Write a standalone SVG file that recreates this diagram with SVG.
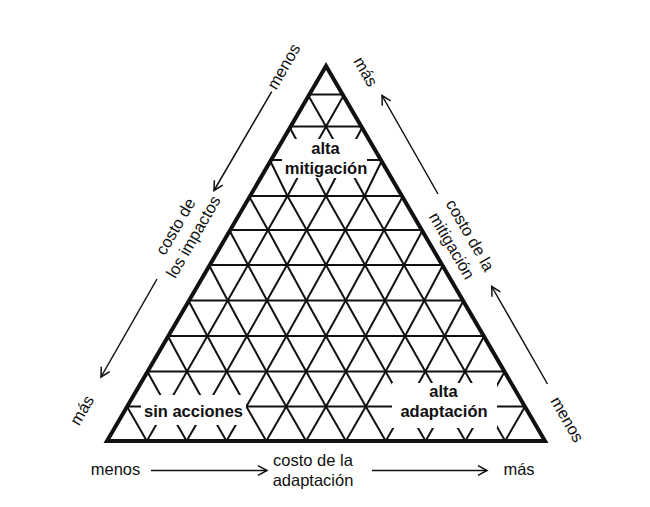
<svg xmlns="http://www.w3.org/2000/svg" width="650" height="507" viewBox="0 0 650 507">
<style>
.grid{fill:none;stroke:#111;stroke-width:2;stroke-linejoin:round}
.edge{fill:none;stroke:#111;stroke-width:4;stroke-linejoin:miter}
.arrow{fill:none;stroke:#111;stroke-width:1.5;marker-end:url(#ah)}
.lbl{font-family:"Liberation Sans",Arial,sans-serif;font-size:16.5px;fill:#111;text-anchor:middle}
.in{font-family:"Liberation Sans",Arial,sans-serif;font-size:16.5px;font-weight:bold;fill:#111;text-anchor:middle}
</style>
<defs>
<marker id="ah" markerUnits="userSpaceOnUse" markerWidth="14" markerHeight="14" viewBox="-11 -7 14 14" refX="0" refY="0" orient="auto">
<path d="M-9,-4.8 L0,0 L-9,4.8" fill="none" stroke="#111" stroke-width="1.5"/>
</marker>
<mask id="gaps" maskUnits="userSpaceOnUse" x="0" y="0" width="650" height="507">
<rect x="0" y="0" width="650" height="507" fill="#fff"/>
<rect x="282" y="139" width="85" height="39" fill="#000"/>
<rect x="141" y="395" width="105" height="30" fill="#000"/>
<rect x="392" y="383" width="105" height="45" fill="#000"/>
</mask>
</defs>
<rect x="0" y="0" width="650" height="507" fill="#fff"/>
<g id="grid" mask="url(#gaps)">
<path class="grid" d="M307.75,94.5H344.25 M289.2,126.5H362.8 M269.81,160H382.19 M248.92,196H403.08 M229.25,230H422.75 M208.97,265H443.03 M188.4,300.5H463.6 M167.83,336H484.17 M147.26,371.5H504.74 M126.98,406.5H525.02"/>
<path class="grid" d="M344.25,94.5 L326,126.5 L307.27,160 L287.46,196 L267.95,230 L247.98,265 L227.72,300.5 L207.37,336 L186.98,371.5 L166.78,406.5 L146.82,441
M362.8,126.5 L344.73,160 L326,196 L306.65,230 L286.99,265 L267.03,300.5 L246.92,336 L226.7,371.5 L206.59,406.5 L186.64,441
M382.19,160 L364.54,196 L345.35,230 L326,265 L306.34,300.5 L286.46,336 L266.42,371.5 L246.39,406.5 L226.45,441
M403.08,196 L384.05,230 L365.01,265 L345.66,300.5 L326,336 L306.14,371.5 L286.2,406.5 L266.27,441
M422.75,230 L404.02,265 L384.97,300.5 L365.54,336 L345.86,371.5 L326,406.5 L306.09,441
M443.03,265 L424.29,300.5 L405.08,336 L385.58,371.5 L365.8,406.5 L345.91,441
M463.6,300.5 L444.63,336 L425.3,371.5 L405.61,406.5 L385.73,441
M484.17,336 L465.02,371.5 L445.41,406.5 L425.55,441
M504.74,371.5 L485.22,406.5 L465.36,441
M525.02,406.5 L505.18,441"/>
<path class="grid" d="M307.75,94.5 L326,126.5 L344.73,160 L364.54,196 L384.05,230 L404.02,265 L424.29,300.5 L444.63,336 L465.02,371.5 L485.22,406.5 L505.18,441
M289.2,126.5 L307.27,160 L326,196 L345.35,230 L365.01,265 L384.97,300.5 L405.08,336 L425.3,371.5 L445.41,406.5 L465.36,441
M269.81,160 L287.46,196 L306.65,230 L326,265 L345.66,300.5 L365.54,336 L385.58,371.5 L405.61,406.5 L425.55,441
M248.92,196 L267.95,230 L286.99,265 L306.34,300.5 L326,336 L345.86,371.5 L365.8,406.5 L385.73,441
M229.25,230 L247.98,265 L267.03,300.5 L286.46,336 L306.14,371.5 L326,406.5 L345.91,441
M208.97,265 L227.72,300.5 L246.92,336 L266.42,371.5 L286.2,406.5 L306.09,441
M188.4,300.5 L207.37,336 L226.7,371.5 L246.39,406.5 L266.27,441
M167.83,336 L186.98,371.5 L206.59,406.5 L226.45,441
M147.26,371.5 L166.78,406.5 L186.64,441
M126.98,406.5 L146.82,441"/>
</g>
<g id="triangle">
<polygon class="edge" points="326,66 107,441 545,441"/>
</g>
<g id="label-alta-mitigacion">
<text class="in" x="325.5" y="153.5">alta</text>
<text class="in" x="326" y="173.5">mitigación</text>
</g>
<g id="label-sin-acciones">
<text class="in" x="193.5" y="416.5">sin acciones</text>
</g>
<g id="label-alta-adaptacion">
<text class="in" x="443.5" y="396.5">alta</text>
<text class="in" x="444" y="416.5">adaptación</text>
</g>
<g id="connectors">
<line class="arrow" x1="271.7" y1="91.7" x2="214" y2="190.5"/>
<line class="arrow" x1="157" y1="279" x2="101" y2="377"/>
<line class="arrow" x1="438" y1="194" x2="382" y2="95.5"/>
<line class="arrow" x1="547.5" y1="384" x2="491.7" y2="286.5"/>
<line class="arrow" x1="151" y1="470.5" x2="267" y2="470.5"/>
<line class="arrow" x1="372" y1="470.5" x2="487" y2="470.5"/>
</g>
<g id="axis-impactos">
<text class="lbl" transform="translate(284.8,67.2) rotate(-60)" y="4.3">menos</text>
<text class="lbl" transform="translate(185,232) rotate(-60)"><tspan x="0" y="-5.3">costo de</tspan><tspan x="0" y="15.3">los impactos</tspan></text>
<text class="lbl" transform="translate(81.7,410) rotate(-60)" y="6">más</text>
</g>
<g id="axis-mitigacion">
<text class="lbl" transform="translate(366,71.5) rotate(60)" y="6">más</text>
<text class="lbl" transform="translate(460.5,240.8) rotate(60)"><tspan x="0" y="-5.5">costo de la</tspan><tspan x="0" y="15.5">mitigación</tspan></text>
<text class="lbl" transform="translate(566,420) rotate(60)" y="4.3">menos</text>
</g>
<g id="axis-adaptacion">
<text class="lbl" x="115.5" y="475">menos</text>
<text class="lbl" x="313" y="466">costo de la</text>
<text class="lbl" x="313" y="486">adaptación</text>
<text class="lbl" x="519" y="475">más</text>
</g>
</svg>
